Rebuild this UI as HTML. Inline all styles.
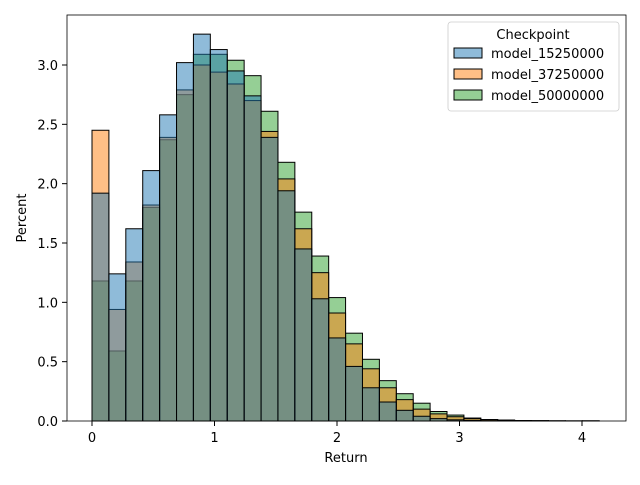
<!DOCTYPE html>
<html><head><meta charset="utf-8"><style>
body{margin:0;background:#fff}
svg{font-family:"DejaVu Sans","Liberation Sans",sans-serif}
</style></head><body>
<svg id="chart" width="640" height="480" viewBox="0 0 640 480">
<rect x="0" y="0" width="640" height="480" fill="#fff"/>
<g id="bars"></g>
<rect x="67" y="15" width="559" height="406" fill="none" stroke="#000" stroke-width="0.8"/>
<g id="axes"></g>
<text x="346" y="462" font-size="13" text-anchor="middle">Return</text>
<text x="26" y="218" font-size="13" text-anchor="middle" transform="rotate(-90 26 218)">Percent</text>
<g>
<rect x="448" y="22" width="171" height="89" rx="3" fill="#fff" fill-opacity="0.8" stroke="#ccc" stroke-width="0.8"/>
<text x="533" y="39" font-size="13" text-anchor="middle">Checkpoint</text>
<g id="legend-items"></g>
</g>
</svg>
<script>
const seriesNames = ["model_15250000","model_37250000","model_50000000"];
const seriesColors = ["#1f77b4","#ff7f0e","#2ca02c"];
const binStart = 0;
const binWidth = 0.138;
const blueVals = [1.92,1.24,1.62,2.11,2.58,3.02,3.26,3.13,2.95,2.74,2.39,1.94,1.45,1.03,0.70,0.46,0.28,0.16,0.09,0.04,0.02,0.01,0.005,0.003,0.002,0.001,0.001,0,0,0.001];
const orangeVals = [2.45,0.94,1.34,1.82,2.39,2.79,3.00,2.94,2.84,2.70,2.44,2.04,1.62,1.25,0.91,0.65,0.44,0.28,0.18,0.10,0.06,0.036,0.02,0.012,0.006,0.004,0.002,0.001,0.001,0.001];
const greenVals = [1.18,0.59,1.18,1.80,2.37,2.75,3.09,3.09,3.04,2.91,2.61,2.18,1.76,1.39,1.04,0.74,0.52,0.34,0.23,0.15,0.08,0.05,0.025,0.012,0.008,0.004,0.003,0.002,0.001,0.001];
const yTicks = [0,0.5,1.0,1.5,2.0,2.5,3.0];
const yTickLabels = ["0.0","0.5","1.0","1.5","2.0","2.5","3.0"];
const xTicks = [0,1,2,3,4];
const xTickLabels = ["0","1","2","3","4"];
const NS="http://www.w3.org/2000/svg";
function xs(v){return 92+v*122.5;}
function ys(v){return 421-v*118.67;}
const bars=document.getElementById('bars');
const allVals=[blueVals,orangeVals,greenVals];
[2,1,0].forEach(si=>{
  allVals[si].forEach((v,i)=>{
    const x0=xs(binStart+i*binWidth), x1=xs(binStart+(i+1)*binWidth);
    const r=document.createElementNS(NS,'rect');
    r.setAttribute('x',x0);r.setAttribute('width',x1-x0);
    r.setAttribute('y',ys(v));r.setAttribute('height',ys(0)-ys(v));
    r.setAttribute('fill',seriesColors[si]);r.setAttribute('fill-opacity','0.5');
    r.setAttribute('stroke','#000');r.setAttribute('stroke-width','1');
    
    
    bars.appendChild(r);
  });
});
const ax=document.getElementById('axes');
yTicks.forEach((t,i)=>{
  const y=ys(t);
  const l=document.createElementNS(NS,'line');
  l.setAttribute('x1',62);l.setAttribute('x2',67);l.setAttribute('y1',y);l.setAttribute('y2',y);l.setAttribute('stroke','#000');
  
  
  ax.appendChild(l);
  const tx=document.createElementNS(NS,'text');
  tx.setAttribute('x',58);tx.setAttribute('y',y+5);tx.setAttribute('font-size','13');tx.setAttribute('text-anchor','end');
  tx.textContent=yTickLabels[i];
  
  
  ax.appendChild(tx);
});
xTicks.forEach((t,i)=>{
  const x=xs(t);
  const l=document.createElementNS(NS,'line');
  l.setAttribute('x1',x);l.setAttribute('x2',x);l.setAttribute('y1',421);l.setAttribute('y2',426);l.setAttribute('stroke','#000');
  
  
  ax.appendChild(l);
  const tx=document.createElementNS(NS,'text');
  tx.setAttribute('x',x);tx.setAttribute('y',442);tx.setAttribute('font-size','13');tx.setAttribute('text-anchor','middle');
  tx.textContent=xTickLabels[i];
  
  
  ax.appendChild(tx);
});
const lg=document.getElementById('legend-items');
seriesNames.forEach((n,i)=>{
  const y=48+i*21;
  const r=document.createElementNS(NS,'rect');
  r.setAttribute('x',454);r.setAttribute('y',y);r.setAttribute('width',28);r.setAttribute('height',10);
  r.setAttribute('fill',seriesColors[i]);r.setAttribute('fill-opacity','0.5');r.setAttribute('stroke','#000');
  
  
  lg.appendChild(r);
  const t=document.createElementNS(NS,'text');
  t.setAttribute('x',491);t.setAttribute('y',y+10);t.setAttribute('font-size','13');
  t.textContent=n;
  
  
  lg.appendChild(t);
});
</script>
</body></html>
